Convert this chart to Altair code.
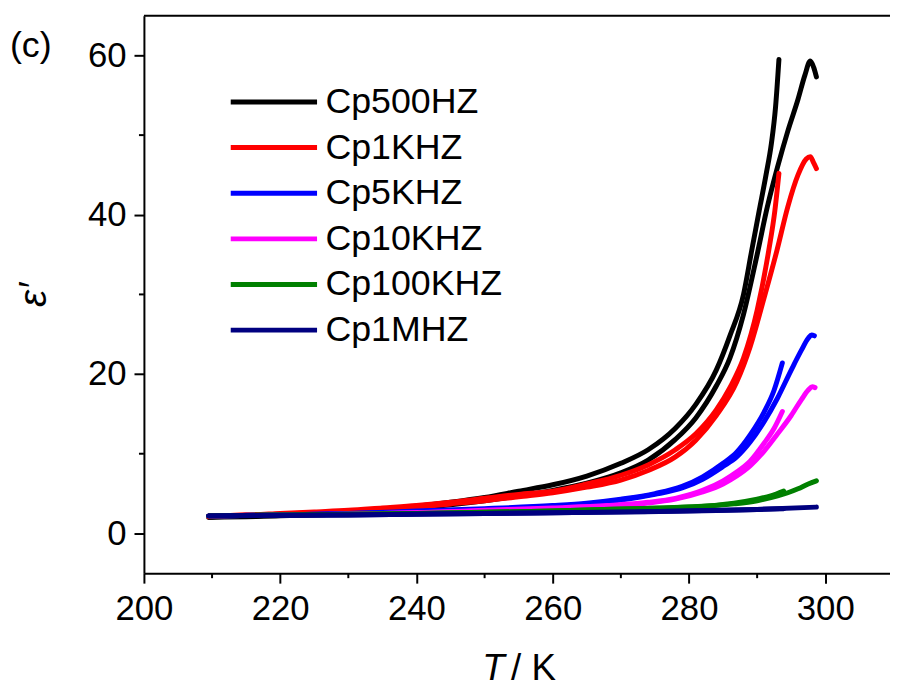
import altair as alt
import pandas as pd

# ---------------- data ----------------
series_names = ["Cp500HZ", "Cp1KHZ", "Cp5KHZ", "Cp10KHZ", "Cp100KHZ", "Cp1MHZ"]
series_colors = ["#000000", "#ff0000", "#0000ff", "#ff00ff", "#008000", "#000080"]

# Cp500HZ
t_500_a = [209.5, 215, 220, 225, 230, 235, 240, 245, 250, 255, 260, 265, 270, 274, 278, 281, 284, 286, 288, 289.2, 290.3, 291.3, 292.1, 292.7, 293.2]
v_500_a = [2.1, 2.2, 2.3, 2.5, 2.7, 3.0, 3.4, 3.9, 4.5, 5.3, 6.1, 7.2, 8.8, 10.5, 13.2, 16.2, 20.5, 24.8, 30.0, 35.5, 40.5, 45.0, 49.0, 53.5, 59.5]
t_500_b = [209.5, 215, 220, 225, 230, 235, 240, 245, 250, 255, 260, 265, 270, 274, 278, 281, 284, 286, 288, 290, 291.5, 293, 294.5, 296, 297, 297.8, 298.3, 298.7]
v_500_b = [2.0, 2.1, 2.2, 2.4, 2.6, 2.9, 3.2, 3.6, 4.1, 4.7, 5.4, 6.3, 7.6, 9.2, 11.8, 14.5, 18.5, 22.0, 27.5, 35.0, 41.0, 46.0, 50.5, 54.5, 57.5, 59.3, 58.5, 57.3]

# Cp1KHZ
t_1k_a = [209.5, 215, 220, 225, 230, 235, 240, 245, 250, 255, 260, 265, 270, 274, 278, 281, 284, 286, 288, 290, 291.7, 292.6, 293.2]
v_1k_a = [2.2, 2.3, 2.5, 2.7, 2.9, 3.2, 3.5, 3.9, 4.4, 4.9, 5.3, 6.2, 7.3, 8.6, 10.5, 12.5, 15.5, 18.3, 22.0, 28.0, 35.5, 40.5, 45.2]
t_1k_b = [209.5, 215, 220, 225, 230, 235, 240, 245, 250, 255, 260, 265, 270, 274, 278, 281, 284, 287, 289, 291, 292.9, 294.5, 296, 297.2, 297.8, 298.3, 298.7]
v_1k_b = [2.1, 2.3, 2.4, 2.6, 2.8, 3.0, 3.3, 3.7, 4.1, 4.6, 5.1, 5.8, 6.7, 7.9, 9.6, 11.7, 14.8, 19.0, 23.5, 29.5, 35.5, 41.0, 45.0, 47.0, 47.3, 46.5, 45.8]

# Cp5KHZ
t_5k_a = [209.5, 220, 230, 240, 250, 260, 265, 270, 275, 279, 282, 285, 287, 289, 291, 292.5, 293.7]
v_5k_a = [2.2, 2.3, 2.5, 2.8, 3.1, 3.5, 3.8, 4.3, 5.0, 5.9, 7.1, 8.8, 10.2, 12.4, 15.2, 18.0, 21.4]
t_5k_b = [209.5, 220, 230, 240, 250, 260, 265, 270, 275, 279, 282, 285, 287, 289, 291, 293, 295, 296.5, 297.5, 298.0, 298.4]
v_5k_b = [2.2, 2.3, 2.5, 2.7, 3.0, 3.4, 3.7, 4.2, 4.9, 5.7, 6.8, 8.4, 9.6, 11.5, 14.0, 17.0, 20.5, 23.0, 24.5, 24.9, 24.8]

# Cp10KHZ
t_10k_a = [209.5, 220, 230, 240, 250, 260, 268, 274, 278, 282, 285, 287, 289, 291, 292.5, 293.7]
v_10k_a = [2.2, 2.3, 2.4, 2.6, 2.9, 3.2, 3.5, 3.9, 4.4, 5.4, 6.6, 7.7, 9.1, 11.3, 13.2, 15.3]
t_10k_b = [209.5, 220, 230, 240, 250, 260, 268, 274, 278, 282, 285, 287, 289, 291, 293, 295, 296.5, 297.5, 298.1, 298.5]
v_10k_b = [2.2, 2.3, 2.4, 2.6, 2.8, 3.1, 3.4, 3.8, 4.3, 5.2, 6.2, 7.2, 8.5, 10.3, 12.5, 14.8, 16.8, 18.0, 18.4, 18.3]

# Cp100KHZ
t_100k_a = [209.5, 220, 240, 260, 272, 280, 286.6, 290, 292, 293.9]
v_100k_a = [2.2, 2.3, 2.5, 2.8, 3.1, 3.3, 3.8, 4.3, 4.7, 5.3]
t_100k_b = [209.5, 220, 240, 260, 272, 280, 286.6, 290, 293, 294.5, 296, 297.5, 298.7]
v_100k_b = [2.2, 2.3, 2.5, 2.8, 3.1, 3.3, 3.7, 4.1, 4.7, 5.1, 5.6, 6.2, 6.6]

# Cp1MHZ
t_1m_a = [209.5, 230, 250, 272, 290, 293.9]
v_1m_a = [2.2, 2.3, 2.5, 2.7, 3.0, 3.1]
t_1m_b = [209.5, 230, 250, 272, 290, 298.7]
v_1m_b = [2.2, 2.3, 2.5, 2.7, 3.0, 3.3]

x_major = [200, 220, 240, 260, 280, 300]
x_minor = [210, 230, 250, 270, 290]
y_major = [0, 20, 40, 60]
y_minor = [10, 30, 50]

runs = {
    "Cp500HZ": [(t_500_a, v_500_a), (t_500_b, v_500_b)],
    "Cp1KHZ": [(t_1k_a, v_1k_a), (t_1k_b, v_1k_b)],
    "Cp5KHZ": [(t_5k_a, v_5k_a), (t_5k_b, v_5k_b)],
    "Cp10KHZ": [(t_10k_a, v_10k_a), (t_10k_b, v_10k_b)],
    "Cp100KHZ": [(t_100k_a, v_100k_a), (t_100k_b, v_100k_b)],
    "Cp1MHZ": [(t_1m_a, v_1m_a), (t_1m_b, v_1m_b)],
}

W, H = 752, 562
FONT = "Liberation Sans"
TICK_FS = 35

x_scale = alt.Scale(domain=[200, 309.5], nice=False, zero=False)
y_scale = alt.Scale(domain=[-5, 65], nice=False, zero=False)
color_scale = alt.Scale(domain=series_names, range=series_colors)

axis_common = dict(labelFont=FONT, labelFontSize=TICK_FS, labelColor="black",
                   domainColor="black", tickColor="black", domainWidth=2, tickWidth=2,
                   tickSize=10, grid=False, labelFlush=False)
x_axis = alt.Axis(values=x_major, title=None, labelPadding=9, **axis_common)
y_axis = alt.Axis(values=y_major, title="ε′", labelPadding=8, titleFont=FONT,
                  titleFontSize=39, titleFontStyle="italic", titleFontWeight="normal",
                  titleColor="black", titlePadding=34, **axis_common)
legend = alt.Legend(title=None)

layers = []
for name in series_names:
    rows = []
    for r, (ts, vs) in enumerate(runs[name]):
        for t, v in zip(ts, vs):
            rows.append({"T": t, "eps": v, "series": name, "run": r})
    df = pd.DataFrame(rows)
    layers.append(
        alt.Chart(df).mark_line(strokeWidth=5, strokeCap="round", strokeJoin="round",
                                interpolate="monotone").encode(
            x=alt.X("T:Q", scale=x_scale, axis=x_axis),
            y=alt.Y("eps:Q", scale=y_scale, axis=y_axis),
            color=alt.Color("series:N", scale=color_scale, legend=legend),
            detail="run:N",
            order="T:Q",
        )
    )

minor_x = alt.Chart(pd.DataFrame({"T": x_minor})).mark_rule(color="black", strokeWidth=2).encode(
    x=alt.X("T:Q", scale=x_scale, axis=x_axis),
    y=alt.value(H), y2=alt.value(H + 5))
minor_y = alt.Chart(pd.DataFrame({"eps": y_minor})).mark_rule(color="black", strokeWidth=2).encode(
    y=alt.Y("eps:Q", scale=y_scale, axis=y_axis),
    x=alt.value(-5), x2=alt.value(0))
top_line = alt.Chart(pd.DataFrame({"a": [0]})).mark_rule(color="black", strokeWidth=2).encode(
    x=alt.value(0), x2=alt.value(W + 10), y=alt.value(0))
panel_label = alt.Chart(pd.DataFrame({"lab": ["(c)"]})).mark_text(
    font=FONT, fontSize=36, align="left", baseline="alphabetic", color="black"
).encode(text="lab:N", x=alt.value(-135), y=alt.value(42))
xtitle_t = alt.Chart(pd.DataFrame({"lab": ["T"]})).mark_text(
    font=FONT, fontSize=37, fontStyle="italic", align="left", baseline="alphabetic", color="black"
).encode(text="lab:N", x=alt.value(341), y=alt.value(670))
xtitle_k = alt.Chart(pd.DataFrame({"lab": ["/ K"]})).mark_text(
    font=FONT, fontSize=37, align="left", baseline="alphabetic", color="black"
).encode(text="lab:N", x=alt.value(370), y=alt.value(670))

chart = alt.layer(*layers, minor_x, minor_y, top_line, panel_label, xtitle_t, xtitle_k).properties(
    width=W, height=H,
    autosize=alt.AutoSizeParams(type="none"),
    padding={"left": 137, "top": 5, "right": 0, "bottom": 112},
).configure_view(stroke=None).configure_legend(
    orient="none", legendX=113, legendY=69, padding=0,
    symbolType="M-3,0L3,0", symbolSize=841, symbolStrokeWidth=5,
    labelFont=FONT, labelFontSize=36, labelColor="black", labelOffset=34,
    rowPadding=10, labelLimit=400,
)

chart.save("out.html", embed_options={"renderer": "svg", "actions": False})
